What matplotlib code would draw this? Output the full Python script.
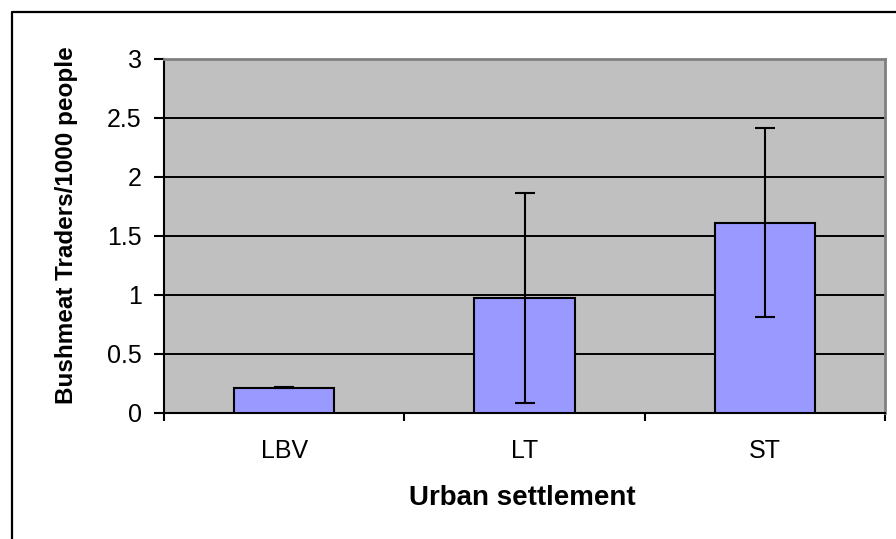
import matplotlib
matplotlib.use("Agg")
import matplotlib.pyplot as plt
from matplotlib.lines import Line2D

# data
settlements = ["LBV", "LT", "ST"]
traders_per_1000 = [0.21, 0.97, 1.61]
errors = [0.005, 0.89, 0.80]
y_ticks = [0, 0.5, 1, 1.5, 2, 2.5, 3]
y_tick_labels = ["0", "0.5", "1", "1.5", "2", "2.5", "3"]

plt.rcParams['font.family'] = ['Liberation Sans', 'DejaVu Sans']

W, H = 896, 539
fig = plt.figure(figsize=(W / 100, H / 100), dpi=100)

# plot area in pixels: x 164..885, y 58.5..412.5
ax = fig.add_axes([164 / W, 1 - 412.5 / H, (885 - 164) / W, (412.5 - 58.5) / H])
ax.set_facecolor('#C0C0C0')

x = list(range(len(settlements)))
ax.bar(x, traders_per_1000, width=0.417, color='#9999FF',
       edgecolor='black', linewidth=1.5, zorder=3)
ax.errorbar(x, traders_per_1000, yerr=errors, fmt='none', ecolor='black',
            elinewidth=1.5, capsize=7, capthick=1.5, zorder=4)

ax.set_xlim(-0.5, 2.5)
ax.set_ylim(0, 3)
ax.set_yticks(y_ticks)
ax.set_yticklabels(y_tick_labels)
ax.yaxis.grid(True, color='black', linewidth=1.4)
ax.set_axisbelow(True)

ax.set_xticks(x)
ax.set_xticklabels(settlements)
ax.set_xticks([-0.5, 0.5, 1.5, 2.5], minor=True)
ax.tick_params(axis='x', which='major', length=0, pad=19, labelsize=18)
ax.tick_params(axis='x', which='minor', length=6, width=1.5, direction='out')
ax.tick_params(axis='y', length=7, width=1.5, pad=9, labelsize=18)

for side in ['top', 'right']:
    ax.spines[side].set_color('#808080')
    ax.spines[side].set_linewidth(2)
for side in ['left', 'bottom']:
    ax.spines[side].set_color('black')
    ax.spines[side].set_linewidth(1.5)

fig.text(522 / W, 1 - 498 / H, "Urban settlement", ha='center', va='center',
         fontsize=20, fontweight='bold')
fig.text(67 / W, 1 - 225 / H, "Bushmeat Traders/1000 people", ha='center',
         va='center', rotation=90, fontsize=17.5, fontweight='bold')

# outer chart frame (left and top edges visible)
fx = 11.5 / W
fy = 1 - 11.5 / H
fig.add_artist(Line2D([fx, fx, 1.0], [0.0, fy, fy], color='black',
                      linewidth=1.6, transform=fig.transFigure))

fig.savefig("out.png", dpi=100)
